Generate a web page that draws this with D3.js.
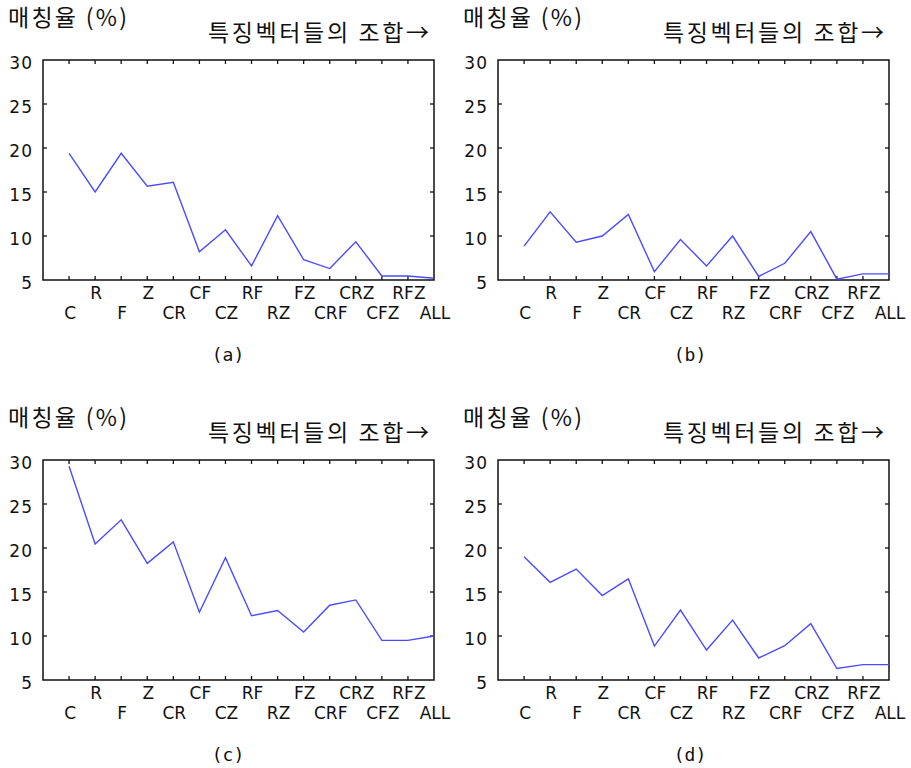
<!DOCTYPE html>
<html>
<head>
<meta charset="utf-8">
<script src="https://cdn.jsdelivr.net/npm/d3@7"></script>
<style>
  body { margin: 0; background: #fff; }
  svg { display: block; }
</style>
</head>
<body>
<svg></svg>
<script>
var width = 911;
var height = 768;

// feature vector combinations (x axis)
var combos = ["C", "R", "F", "Z", "CR", "CF", "CZ", "RF", "RZ", "FZ", "CRF", "CRZ", "CFZ", "RFZ", "ALL"];

// matching rate (%) per panel
var rateA = [19.4, 15.0, 19.4, 15.65, 16.1, 8.2, 10.7, 6.6, 12.3, 7.3, 6.3, 9.35, 5.45, 5.45, 5.2];
var rateB = [8.85, 12.75, 9.3, 10.0, 12.45, 5.95, 9.6, 6.6, 10.0, 5.4, 6.9, 10.5, 5.1, 5.7, 5.7];
var rateC = [29.3, 20.45, 23.2, 18.25, 20.7, 12.7, 18.9, 12.3, 12.9, 10.45, 13.5, 14.1, 9.5, 9.5, 10.0];
var rateD = [19.0, 16.1, 17.6, 14.6, 16.5, 8.85, 12.95, 8.4, 11.8, 7.5, 8.9, 11.4, 6.3, 6.75, 6.75];

var yTicks = [5, 10, 15, 20, 25, 30];
var captions = ["(a)", "(b)", "(c)", "(d)"];
var yTitle = "매칭율 (%)";
var xTitle = "특징벡터들의 조합→";

var panels = [
  { values: rateA, dx: 0, dy: 0, caption: captions[0] },
  { values: rateB, dx: 455, dy: 0, caption: captions[1] },
  { values: rateC, dx: 0, dy: 400, caption: captions[2] },
  { values: rateD, dx: 455, dy: 400, caption: captions[3] }
];

var svg = d3.select("svg").attr("width", width).attr("height", height);

var xScale = d3.scaleLinear().domain([-1, combos.length - 1]).range([43, 434]);
var yScale = d3.scaleLinear().domain([5, 30]).range([280, 60]);

var line = d3.line()
  .x(function(d, i) { return xScale(i); })
  .y(function(d) { return yScale(d); });

var labelFont = "'DejaVu Sans', Verdana, sans-serif";
var koFont = "'Noto Sans CJK KR', sans-serif";

panels.forEach(function(p) {
  var g = svg.append("g").attr("transform", "translate(" + p.dx + "," + p.dy + ")");

  // titles
  g.append("text")
    .attr("x", 8).attr("y", 26)
    .attr("font-family", koFont).attr("font-size", 23)
    .attr("textLength", 119).attr("lengthAdjust", "spacing")
    .attr("fill", "#111")
    .text(yTitle);

  g.append("text")
    .attr("x", 208).attr("y", 41)
    .attr("font-family", koFont).attr("font-size", 23)
    .attr("textLength", 221).attr("lengthAdjust", "spacing")
    .attr("fill", "#111")
    .text(xTitle);

  var x0 = xScale.range()[0], x1 = xScale.range()[1];
  var y0 = yScale.range()[0], y1 = yScale.range()[1];

  // ticks inward on all sides
  var inner = d3.range(combos.length - 1);
  g.selectAll(".tb").data(inner).enter().append("line")
    .attr("x1", function(d) { return xScale(d); })
    .attr("x2", function(d) { return xScale(d); })
    .attr("y1", y0).attr("y2", y0 - 4)
    .attr("stroke", "#111").attr("stroke-width", 1.3);
  g.selectAll(".tt").data(inner).enter().append("line")
    .attr("x1", function(d) { return xScale(d); })
    .attr("x2", function(d) { return xScale(d); })
    .attr("y1", y1).attr("y2", y1 + 4)
    .attr("stroke", "#111").attr("stroke-width", 1.3);

  var midY = yTicks.slice(1, -1);
  g.selectAll(".tl").data(midY).enter().append("line")
    .attr("x1", x0).attr("x2", x0 + 4)
    .attr("y1", function(d) { return yScale(d); })
    .attr("y2", function(d) { return yScale(d); })
    .attr("stroke", "#111").attr("stroke-width", 1.3);
  g.selectAll(".tr").data(midY).enter().append("line")
    .attr("x1", x1).attr("x2", x1 - 4)
    .attr("y1", function(d) { return yScale(d); })
    .attr("y2", function(d) { return yScale(d); })
    .attr("stroke", "#111").attr("stroke-width", 1.3);

  // frame
  g.append("rect")
    .attr("x", x0).attr("y", y1)
    .attr("width", x1 - x0).attr("height", y0 - y1)
    .attr("fill", "none").attr("stroke", "#111").attr("stroke-width", 1.5);

  // y labels
  g.selectAll(".yl").data(yTicks).enter().append("text")
    .attr("x", 33)
    .attr("y", function(d) { return yScale(d) + 4; })
    .attr("text-anchor", "end")
    .attr("dominant-baseline", "middle")
    .attr("font-family", labelFont).attr("font-size", 17)
    .attr("letter-spacing", 1)
    .attr("fill", "#111")
    .text(function(d) { return d; });

  // x labels, alternating rows
  g.selectAll(".xl").data(combos).enter().append("text")
    .attr("x", function(d, i) { return xScale(i) + 1; })
    .attr("y", function(d, i) { return i % 2 === 0 ? 319 : 299; })
    .attr("text-anchor", "middle")
    .attr("font-family", labelFont).attr("font-size", 17)
    .attr("fill", "#111")
    .text(function(d) { return d; });

  // data line
  g.append("path")
    .datum(p.values)
    .attr("d", line)
    .attr("fill", "none")
    .attr("stroke", "#4c4cff")
    .attr("stroke-width", 1.4);

  // caption
  g.append("text")
    .attr("x", p.dx === 0 ? 228 : 235).attr("y", 356)
    .attr("text-anchor", "middle")
    .attr("dominant-baseline", "middle")
    .attr("font-family", "'DejaVu Sans Mono', monospace").attr("font-size", 18)
    .attr("fill", "#111")
    .text(p.caption);
});
</script>
</body>
</html>
